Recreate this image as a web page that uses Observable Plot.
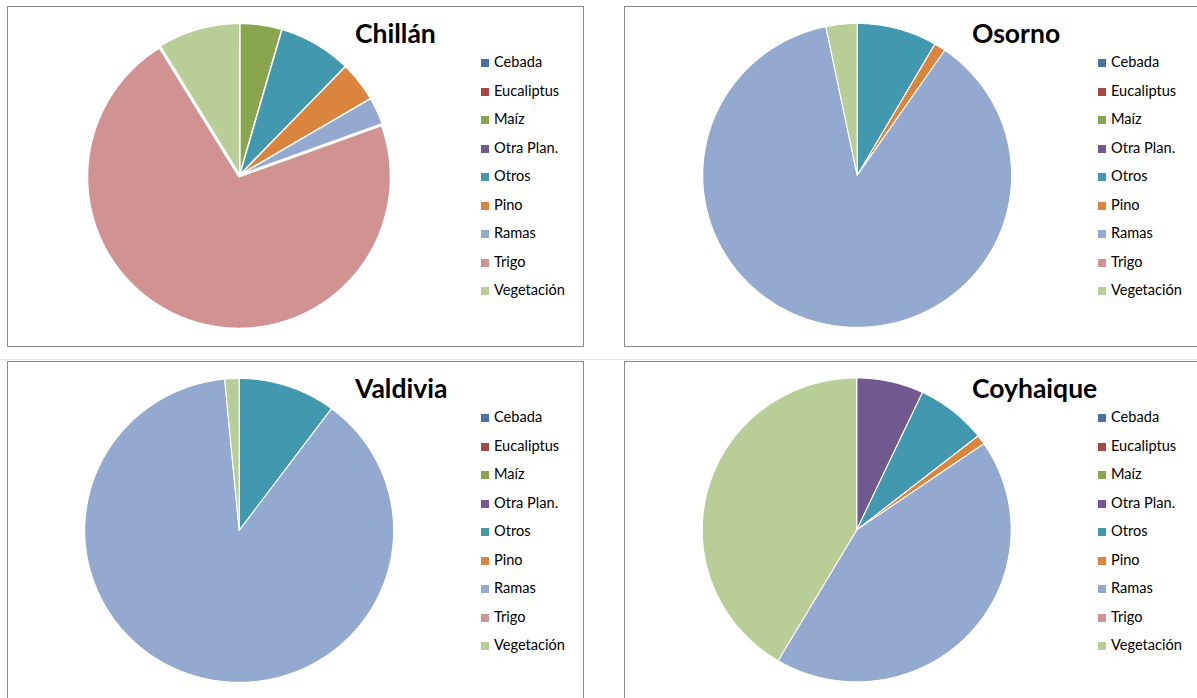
<!DOCTYPE html>
<html>
<head>
<meta charset="utf-8">
<script src="https://cdn.jsdelivr.net/npm/d3@7"></script>
<script src="https://cdn.jsdelivr.net/npm/@observablehq/plot@0.6"></script>
<style>
  html, body { margin: 0; padding: 0; background: #fff; width: 1197px; height: 698px; overflow: hidden; position: relative; font-family: Lato, "Liberation Sans", sans-serif; }
  .panel { position: absolute; width: 577px; height: 341px; box-sizing: border-box; border: 1px solid #8a8a8a; background: #fff; }
  .panel svg { position: absolute; left: -1px; top: -1px; }
  .title { position: absolute; font-weight: bold; font-size: 26.5px; color: #000; line-height: 1; white-space: nowrap; }
  .legend { position: absolute; font-size: 14.6px; color: #000; }
  .legend .sw { position: absolute; width: 8px; height: 8px; }
  .legend .lab { position: absolute; white-space: nowrap; line-height: 1; }
  .sep { position: absolute; left: 0; width: 1197px; height: 1px; background: #e4e4e4; top: 359px; }
</style>
</head>
<body>
<div class="sep"></div>
<script>
// ---- data ----
const categories = ["Cebada", "Eucaliptus", "Maíz", "Otra Plan.", "Otros", "Pino", "Ramas", "Trigo", "Vegetación"];
const colors = ["#4572a7", "#aa4643", "#89a54e", "#71588f", "#4198af", "#db843d", "#93a9cf", "#d19392", "#b9cd96"];
const titles = ["Chillán", "Osorno", "Valdivia", "Coyhaique"];
const chillan   = [0, 0, 4.5, 0,   7.8,  4.3, 2.9,  71.7, 8.8];
const osorno    = [0, 0, 0,   0,   8.4,  1.2, 87.15, 0,   3.25];
const valdivia  = [0, 0, 0,   0,   10.2, 0,   88.3,  0,   1.5];
const coyhaique = [0, 0, 0,   7.0, 7.4,  1.0, 43.1,  0,   41.5];
const series = [chillan, osorno, valdivia, coyhaique];
// exploded slice (Chillán: Trigo pulled out slightly)
const explodeChillan = [0, 0, 0, 0, 0, 0, 0, 0.014, 0];
const explodes = [explodeChillan, null, null, null];

// ---- layout ----
const panelPos = [[7, 6], [624, 6], [7, 361], [624, 361]];
const W = 577, H = 341;
// per panel: [cx, cy, rx, ry]
const pieGeom = [[233, 169, 152, 152], [233.5, 169.5, 155, 152.5], [232.5, 169.5, 155, 152.5], [233, 169, 155, 152.5]];

function pieRows(values, explode) {
  const arcs = d3.pie().sort(null).value(d => d)(values);
  const rows = [];
  arcs.forEach((a, i) => {
    if (a.value <= 0) return;
    const cat = categories[i];
    const off = explode ? explode[i] : 0;
    const mid = (a.startAngle + a.endAngle) / 2;
    const ox = off * Math.sin(mid), oy = off * Math.cos(mid);
    rows.push({cat, x: ox, y: oy});
    const n = Math.max(2, Math.ceil((a.endAngle - a.startAngle) / (Math.PI / 360)));
    for (let k = 0; k <= n; k++) {
      const t = a.startAngle + (a.endAngle - a.startAngle) * k / n;
      rows.push({cat, x: ox + Math.sin(t), y: oy + Math.cos(t)});
    }
  });
  return rows;
}

series.forEach((vals, p) => {
  const div = document.createElement("div");
  div.className = "panel";
  div.style.left = panelPos[p][0] + "px";
  div.style.top = panelPos[p][1] + "px";
  document.body.appendChild(div);

  const [cx, cy, rx, ry] = pieGeom[p];
  const chart = Plot.plot({
    width: W, height: H, margin: 0,
    style: {background: "transparent", overflow: "visible"},
    x: {domain: [-1, 1], range: [cx - rx, cx + rx], axis: null},
    y: {domain: [-1, 1], range: [cy + ry, cy - ry], axis: null},
    color: {domain: categories, range: colors},
    marks: [
      Plot.line(pieRows(vals, explodes[p]), {
        x: "x", y: "y", z: "cat", fill: "cat",
        stroke: "white", strokeWidth: p === 0 ? 1.5 : 1.1, curve: "linear-closed"
      })
    ]
  });
  div.appendChild(chart);

  const t = document.createElement("div");
  t.className = "title";
  t.textContent = titles[p];
  t.style.left = "347px";
  t.style.top = "13px";
  div.appendChild(t);

  const lg = document.createElement("div");
  lg.className = "legend";
  lg.style.left = "473px";
  lg.style.top = "0px";
  categories.forEach((c, i) => {
    const y = 56 + i * 28.5;
    const sw = document.createElement("div");
    sw.className = "sw";
    sw.style.background = colors[i];
    sw.style.left = "0px";
    sw.style.top = (y - 4) + "px";
    lg.appendChild(sw);
    const lab = document.createElement("div");
    lab.className = "lab";
    lab.textContent = c;
    lab.style.left = "13px";
    lab.style.top = (y - 8) + "px";
    lg.appendChild(lab);
  });
  div.appendChild(lg);
});
</script>
</body>
</html>
